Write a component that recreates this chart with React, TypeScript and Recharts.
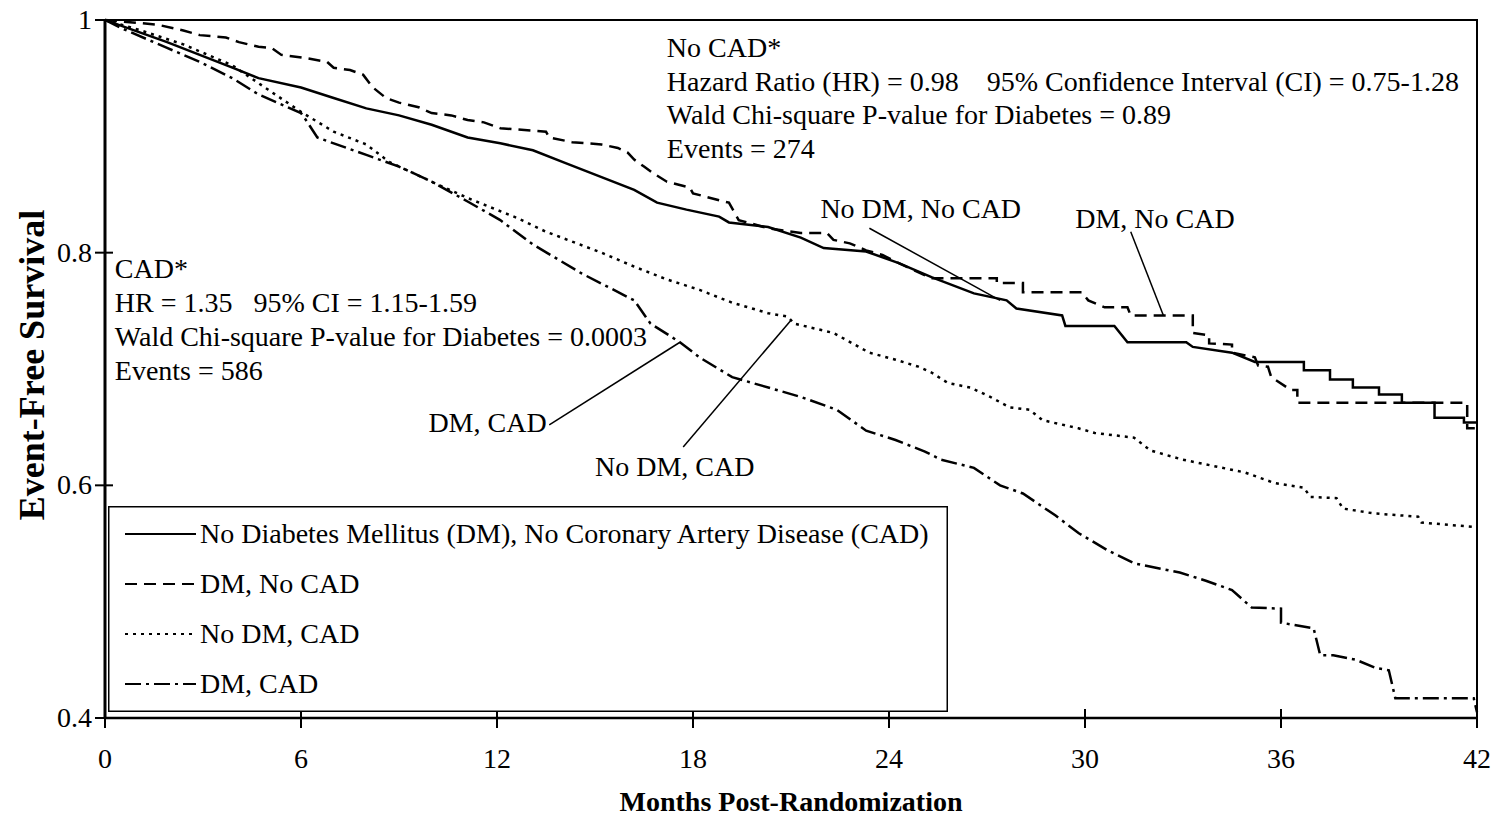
import { LineChart, Line, XAxis, YAxis, ReferenceArea, ReferenceLine, ReferenceDot, Legend } from 'recharts';

// Kaplan-Meier curves: [month, event-free survival]
const noDmNoCad: [number, number][] = [
  [0, 1], [0.4, 0.996], [1.9, 0.981], [3.9, 0.959], [4.7, 0.95], [6.0, 0.942], [7.0, 0.933], [8.0, 0.924],
  [9.0, 0.918], [10.0, 0.91], [11.1, 0.899], [12.1, 0.894], [13.1, 0.888], [14.1, 0.877], [15.2, 0.865],
  [16.2, 0.854], [16.9, 0.843], [17.8, 0.837], [18.8, 0.831], [19.1, 0.826], [20.3, 0.822], [21.3, 0.813],
  [22.0, 0.804], [23.3, 0.801], [24.3, 0.791], [25.3, 0.779], [26.6, 0.765], [27.6, 0.759], [27.9, 0.752],
  [29.3, 0.746], [29.4, 0.737], [30.9, 0.737], [31.3, 0.723], [33.1, 0.723], [33.3, 0.719], [34.5, 0.714],
  [35.2, 0.706], [36.7, 0.706], [36.7, 0.699], [37.5, 0.699], [37.5, 0.691], [38.2, 0.691], [38.2, 0.684],
  [39.0, 0.684], [39.0, 0.678], [39.7, 0.678], [39.7, 0.671], [40.7, 0.671], [40.7, 0.658], [41.6, 0.658],
  [41.6, 0.654], [42, 0.654],
];

const dmNoCad: [number, number][] = [
  [0, 1], [1.6, 0.996], [2.4, 0.991], [2.9, 0.987], [3.7, 0.985], [4.1, 0.981], [4.7, 0.977], [5.1, 0.976],
  [5.4, 0.97], [6.2, 0.967], [6.8, 0.964], [7.0, 0.959], [7.5, 0.957], [7.9, 0.953], [8.2, 0.942], [8.6, 0.933],
  [9.0, 0.929], [9.6, 0.925], [10.0, 0.92], [10.6, 0.918], [11.1, 0.914], [11.6, 0.912], [12.1, 0.907],
  [13.5, 0.904], [13.6, 0.899], [14.3, 0.895], [15.2, 0.893], [15.7, 0.89], [16.0, 0.886], [16.2, 0.88],
  [16.5, 0.874], [16.8, 0.868], [17.2, 0.861], [17.9, 0.856], [18.0, 0.851], [18.8, 0.845], [19.1, 0.843],
  [19.4, 0.828], [20.3, 0.821], [21.3, 0.817], [22.1, 0.817], [22.3, 0.811], [22.8, 0.808], [23.3, 0.802],
  [23.8, 0.798], [24.3, 0.791], [25.3, 0.778], [27.3, 0.778], [27.3, 0.774], [28.1, 0.774], [28.1, 0.766],
  [29.9, 0.766], [30.1, 0.759], [30.6, 0.753], [31.3, 0.753], [31.4, 0.746], [33.3, 0.746], [33.3, 0.731],
  [33.8, 0.729], [33.8, 0.722], [34.5, 0.721], [34.5, 0.714], [35.2, 0.71], [35.3, 0.703], [35.6, 0.702],
  [35.7, 0.693], [36.3, 0.682], [36.5, 0.682], [36.5, 0.671], [41.7, 0.671], [41.7, 0.649], [42, 0.649],
];

const noDmCad: [number, number][] = [
  [0, 1], [1.1, 0.991], [2.4, 0.979], [3.9, 0.961], [5.0, 0.94], [6.0, 0.921], [7.0, 0.904], [8.0, 0.893],
  [8.7, 0.878], [10.0, 0.861], [11.1, 0.847], [12.6, 0.83], [13.5, 0.818], [15.2, 0.8], [16.2, 0.788],
  [17.2, 0.777], [18.2, 0.768], [19.2, 0.757], [20.3, 0.748], [20.9, 0.745], [21.1, 0.739], [22.3, 0.731],
  [23.4, 0.714], [24.2, 0.708], [24.9, 0.702], [25.3, 0.697], [25.8, 0.688], [26.5, 0.684], [27.1, 0.676],
  [27.7, 0.667], [28.3, 0.665], [28.7, 0.656], [29.8, 0.649], [30.3, 0.645], [31.5, 0.641], [32.0, 0.63],
  [33.0, 0.622], [33.7, 0.618], [34.9, 0.611], [35.8, 0.602], [36.7, 0.598], [36.9, 0.59], [37.7, 0.589],
  [37.9, 0.58], [38.8, 0.576], [40.2, 0.573], [40.3, 0.568], [42, 0.564],
];

const dmCad: [number, number][] = [
  [0, 1], [0.5, 0.993], [1.9, 0.976], [2.9, 0.964], [3.9, 0.95], [4.7, 0.936], [6.0, 0.92], [6.2, 0.912],
  [6.5, 0.899], [8.0, 0.884], [9.0, 0.874], [10.0, 0.861], [11.1, 0.844], [12.1, 0.828], [13.1, 0.807],
  [14.6, 0.782], [16.2, 0.759], [16.7, 0.739], [17.6, 0.723], [18.2, 0.71], [19.2, 0.693], [21.3, 0.676],
  [22.4, 0.665], [23.3, 0.647], [24.2, 0.639], [25.1, 0.629], [25.6, 0.622], [26.6, 0.615], [27.4, 0.6],
  [28.1, 0.593], [29.1, 0.574], [29.8, 0.559], [30.7, 0.544], [31.5, 0.533], [32.9, 0.525], [33.7, 0.518],
  [34.5, 0.51], [35.1, 0.495], [36.0, 0.494], [36.0, 0.482], [37.0, 0.477], [37.2, 0.454], [37.6, 0.454],
  [38.3, 0.45], [38.9, 0.443], [39.3, 0.441], [39.5, 0.417], [41.9, 0.417], [42, 0.405],
];

const monthTicks = [0, 6, 12, 18, 24, 30, 36, 42];
const survivalTicks = [0.4, 0.6, 0.8, 1];

const noCadNote = [
  'No CAD*',
  'Hazard Ratio (HR) = 0.98    95% Confidence Interval (CI) = 0.75-1.28',
  'Wald Chi-square P-value for Diabetes = 0.89',
  'Events = 274',
];
const cadNote = [
  'CAD*',
  'HR = 1.35   95% CI = 1.15-1.59',
  'Wald Chi-square P-value for Diabetes = 0.0003',
  'Events = 586',
];

// curve callouts: text anchor and pointer segment, in data units
const callouts = [
  { text: 'No DM, No CAD', at: [21.9, 0.83], from: [23.4, 0.821], to: [27.4, 0.759] },
  { text: 'DM, No CAD', at: [29.7, 0.821], from: [31.4, 0.818], to: [32.4, 0.746] },
  { text: 'DM, CAD', at: [9.9, 0.646], from: [13.6, 0.652], to: [17.6, 0.723] },
  { text: 'No DM, CAD', at: [15.0, 0.608], from: [17.7, 0.633], to: [21.0, 0.742] },
];

const FONT = '"Liberation Serif", "Times New Roman", serif';
const FS = 28;

const series = [
  { key: 'a', name: 'No Diabetes Mellitus (DM), No Coronary Artery Disease (CAD)', points: noDmNoCad, dash: undefined as string | undefined },
  { key: 'b', name: 'DM, No CAD', points: dmNoCad, dash: '12 7' },
  { key: 'c', name: 'No DM, CAD', points: noDmCad, dash: '3 5' },
  { key: 'd', name: 'DM, CAD', points: dmCad, dash: '16 5 3 5' },
];

const toRows = (pts: [number, number][]) => pts.map(([month, survival]) => ({ month, survival }));

function XTick({ x, y, payload }: any) {
  return (
    <g>
      <line x1={x} x2={x} y1={y - 9} y2={y + 10} stroke="#000" strokeWidth={2} />
      <text x={x} y={y + 50} textAnchor="middle" fontFamily={FONT} fontSize={FS} fill="#000">
        {payload.value}
      </text>
    </g>
  );
}

function YTick({ x, y, payload }: any) {
  return (
    <g>
      <line x1={x - 10} x2={x + 8} y1={y} y2={y} stroke="#000" strokeWidth={2} />
      <text x={x - 13} y={y + 9} textAnchor="end" fontFamily={FONT} fontSize={FS} fill="#000">
        {String(payload.value)}
      </text>
    </g>
  );
}

function NoteLabel({ viewBox, lines, gap }: any) {
  const { x, y } = viewBox;
  return (
    <text x={x} y={y} fontFamily={FONT} fontSize={FS} fill="#000" style={{ whiteSpace: 'pre' }}>
      {lines.map((l: string, i: number) => (
        <tspan key={i} x={x} dy={i === 0 ? 0 : gap}>{l}</tspan>
      ))}
    </text>
  );
}

function LegendBox() {
  return (
    <svg width={840} height={206}>
      <rect x={0.75} y={0.75} width={838.5} height={204.5} fill="#fff" stroke="#000" strokeWidth={1.5} />
      {series.map((s, i) => (
        <g key={s.key}>
          <line x1={17} x2={88} y1={28 + i * 50} y2={28 + i * 50} stroke="#000" strokeWidth={2} strokeDasharray={s.dash} />
          <text x={92} y={37 + i * 50} fontFamily={FONT} fontSize={FS} fill="#000">{s.name}</text>
        </g>
      ))}
    </svg>
  );
}

export default function App() {
  return (
    <>
      <style>{'html, body { margin: 0; padding: 0; overflow: hidden; }'}</style>
      <LineChart width={1494} height={819} margin={{ top: 20, right: 17, bottom: 41, left: 25 }} style={{ overflow: 'visible' }}>
        <ReferenceArea x1={0} x2={42} y1={0.4} y2={1} fill="none" stroke="#000" strokeWidth={2} />
        <XAxis
          dataKey="month"
          type="number"
          domain={[0, 42]}
          ticks={monthTicks}
          height={60}
          tickSize={0}
          tickMargin={0}
          tickLine={false}
          tick={<XTick />}
          axisLine={{ stroke: '#000', strokeWidth: 2.5 }}
          allowDuplicatedCategory={false}
          label={(p: any) => (
            <text
              x={p.viewBox.x + p.viewBox.width / 2}
              y={p.viewBox.y + p.viewBox.height + 33}
              textAnchor="middle"
              fontFamily={FONT}
              fontSize={FS}
              fontWeight="bold"
              fill="#000"
            >
              Months Post-Randomization
            </text>
          )}
        />
        <YAxis
          type="number"
          domain={[0.4, 1]}
          ticks={survivalTicks}
          width={80}
          tickSize={0}
          tickMargin={0}
          tickLine={false}
          tick={<YTick />}
          axisLine={{ stroke: '#000', strokeWidth: 3 }}
          label={(p: any) => {
            const cx = p.viewBox.x + 19;
            const cy = p.viewBox.y + p.viewBox.height / 2 - 4;
            return (
              <text
                x={cx}
                y={cy}
                transform={`rotate(-90, ${cx}, ${cy})`}
                textAnchor="middle"
                fontFamily={FONT}
                fontSize={36}
                fontWeight="bold"
                fill="#000"
              >
                Event-Free Survival
              </text>
            );
          }}
        />
        <Legend
          layout="vertical"
          align="center"
          verticalAlign="middle"
          content={() => <LegendBox />}
          wrapperStyle={{ left: 108, top: 506, width: 840, height: 206 }}
        />
        {callouts.map((c) => (
          <ReferenceLine
            key={`p-${c.text}`}
            segment={[{ x: c.from[0], y: c.from[1] }, { x: c.to[0], y: c.to[1] }]}
            stroke="#000"
            strokeWidth={1.5}
          />
        ))}
        {series.map((s) => (
          <Line
            key={s.key}
            data={toRows(s.points)}
            dataKey="survival"
            name={s.name}
            type="linear"
            stroke="#000"
            strokeWidth={2.5}
            strokeDasharray={s.dash}
            dot={false}
            activeDot={false}
            isAnimationActive={false}
          />
        ))}
        <ReferenceDot
          x={17.2}
          y={0.968}
          r={0}
          fill="none"
          stroke="none"
          label={(p: any) => <NoteLabel {...p} lines={noCadNote} gap={33.5} />}
        />
        <ReferenceDot
          x={0.3}
          y={0.778}
          r={0}
          fill="none"
          stroke="none"
          label={(p: any) => <NoteLabel {...p} lines={cadNote} gap={34} />}
        />
        {callouts.map((c) => (
          <ReferenceDot
            key={`t-${c.text}`}
            x={c.at[0]}
            y={c.at[1]}
            r={0}
            fill="none"
            stroke="none"
            label={(p: any) => <NoteLabel {...p} lines={[c.text]} gap={0} />}
          />
        ))}
      </LineChart>
    </>
  );
}
